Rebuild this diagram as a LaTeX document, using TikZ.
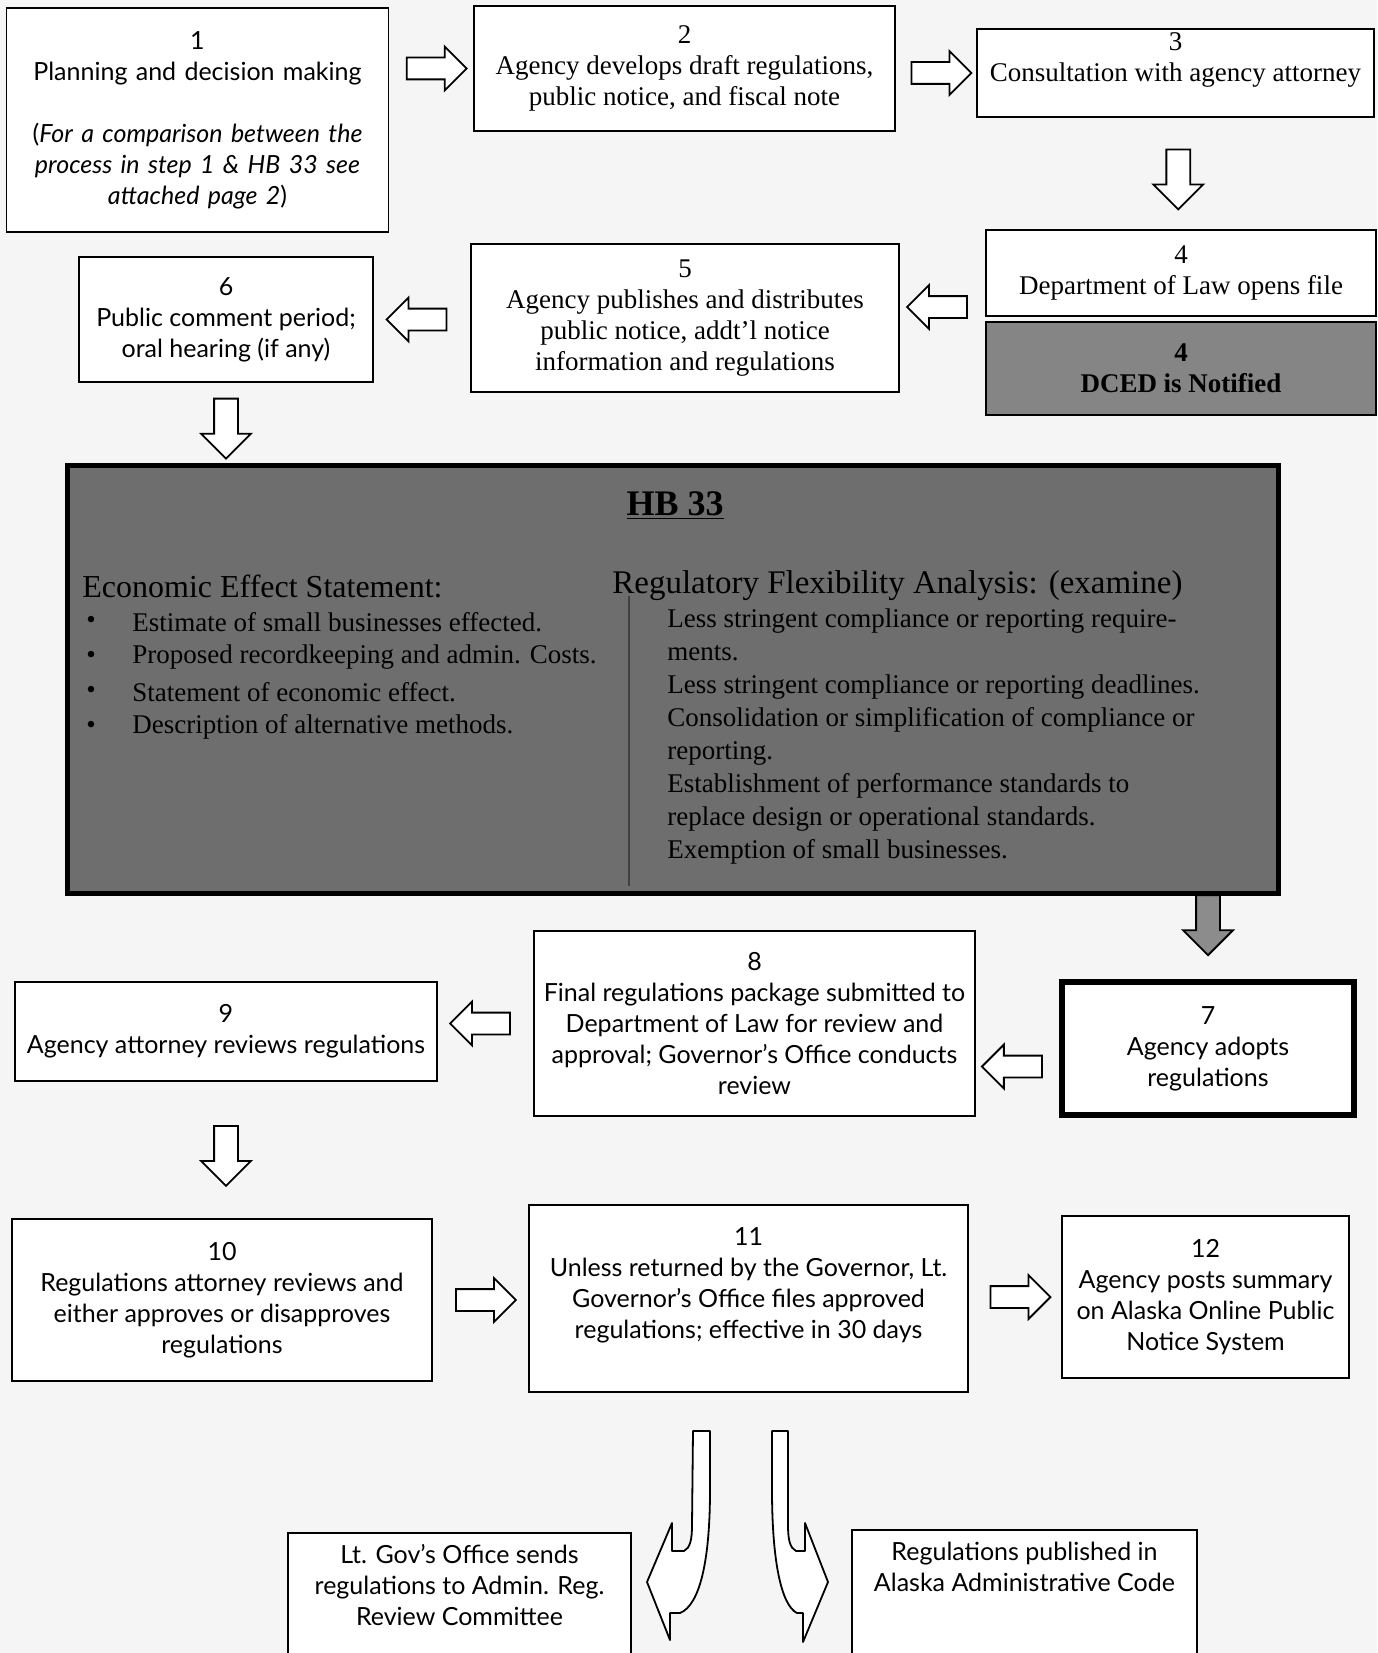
\documentclass[tikz,border=0pt]{standalone}
\usepackage{fontspec}
\setmainfont{Liberation Serif}
\newfontfamily\optfont[Ligatures=TeX]{Lato}
\usetikzlibrary{shapes.arrows,calc,positioning}

\tikzset{
  stepbox/.style={draw,line width=0.8pt,fill=white,align=center,inner sep=2pt,
    font=\optfont\fontsize{12.5}{15.5}\selectfont},
  serifbox/.style={stepbox,font=\fontsize{13.5}{15.5}\selectfont},
  harrow/.style={single arrow,draw,fill=white,line width=0.9pt,inner xsep=0pt,
    inner ysep=5pt,minimum height=30pt,single arrow head extend=5.5pt},
  varrow/.style={harrow,inner ysep=5.5pt,single arrow head extend=6.5pt,rotate=-90},
  larrow/.style={harrow,rotate=180},
  hbhead/.style={anchor=west,inner sep=0pt,font=\fontsize{16}{18}\selectfont},
  hbitem/.style={anchor=west,inner sep=0pt,font=\fontsize{13.5}{16.5}\selectfont}
}

\begin{document}
\begin{tikzpicture}[x=0.5pt,y=-0.5pt]
  \useasboundingbox (0,0) rectangle (1377,1653);
  \clip (0,0) rectangle (1377,1653);
  \fill[black!4] (0,0) rectangle (1377,1653);

  % top row
  \node[stepbox,minimum width=190.5pt,minimum height=112pt,text width=187pt] (plan) at (197.5,120)
    {1\\Planning and decision making\\[15.5pt](\textit{For a comparison between the}\\
     \textit{process in step 1 \& HB 33 see}\\ \textit{attached page 2})};
  \node[serifbox,minimum width=210.5pt,minimum height=62.5pt] (draft) at (684.5,68.5)
    {2\\Agency develops draft regulations,\\public notice, and fiscal note};
  \node[serifbox,minimum width=198.5pt,minimum height=43pt] (consult) at (1175.5,73)
    {3\\Consultation with agency attorney\\ \mbox{}};

  % second row
  \node[serifbox,minimum width=195pt,minimum height=43pt] (lawfile) at (1181,273)
    {4\\Department of Law opens file};
  \node[serifbox,fill=black!48,minimum width=195pt,minimum height=46.5pt,
    font=\bfseries\fontsize{13.5}{15.5}\selectfont] (dced) at (1181,368.5)
    {4\\DCED is Notified};
  \node[serifbox,minimum width=214pt,minimum height=74pt] (publish) at (685,318)
    {5\\Agency publishes and distributes\\public notice, addt'l notice\\information and regulations};
  \node[stepbox,minimum width=147pt,minimum height=62.5pt] (comment) at (226,319.5)
    {6\\Public comment period;\\oral hearing (if any)};

  % HB 33 panel
  \node[draw,line width=2.5pt,fill=black!57,minimum width=605.5pt,minimum height=214pt] (hb) at (672.5,679) {};
  \node[font=\bfseries\fontsize{18}{20}\selectfont] (hbtitle) at (675,506) {\underline{HB 33}};
  \node[hbhead] (ees) at (82,586) {Economic Effect Statement:};
  \node[hbhead,font=\fontsize{16.5}{18}\selectfont] (rfa) at (612,586) {Regulatory Flexibility Analysis: (examine)};
  \foreach \t [count=\i] in {Estimate of small businesses effected.,
      Proposed recordkeeping and admin. Costs.,
      Statement of economic effect.,
      Description of alternative methods.}{
    \node[hbitem] (dot\i) at (86,587+35*\i) {\textbullet};
    \node[hbitem] (ees\i) at (132,587+35*\i) {\t};
  }
  \node[hbitem,align=left,anchor=north west] (rfalist) at (667,608)
    {Less stringent compliance or reporting require-\\ments.\\
     Less stringent compliance or reporting deadlines.\\
     Consolidation or simplification of compliance or\\reporting.\\
     Establishment of performance standards to\\replace design or operational standards.\\
     Exemption of small businesses.};
  \draw[black!75,line width=1.2pt] (629,596) -- (629,886);

  % third row
  \node[stepbox,line width=3pt,minimum width=146pt,minimum height=66.5pt] (adopt) at (1208,1048.5)
    {7\\Agency adopts\\regulations};
  \node[stepbox,minimum width=220.5pt,minimum height=92.5pt] (submit) at (754.5,1023.5)
    {8\\Final regulations package submitted to\\Department of Law for review and\\
     approval; Governor's Office conducts\\review};
  \node[stepbox,minimum width=211pt,minimum height=49.5pt] (review) at (226,1031.5)
    {9\\Agency attorney reviews regulations};

  % fourth row
  \node[stepbox,minimum width=210pt,minimum height=81pt] (regatty) at (222,1300)
    {10\\Regulations attorney reviews and\\either approves or disapproves\\regulations};
  \node[stepbox,minimum width=219.5pt,minimum height=93.5pt] (filed) at (748.5,1298.5)
    {11\\Unless returned by the Governor, Lt.\\Governor's Office files approved\\
     regulations; effective in 30 days\\ \mbox{}};
  \node[stepbox,minimum width=143.5pt,minimum height=81pt] (posts) at (1205.5,1297)
    {12\\Agency posts summary\\on Alaska Online Public\\Notice System};

  % last row, cut by the page edge
  \node[stepbox,minimum width=171.5pt,minimum height=70pt,anchor=north] (arrc) at (459.5,1532) {};
  \node[stepbox,draw=none,fill=none,anchor=north] (arrctext) at ($(arrc.north)+(0,8)$)
    {Lt. Gov's Office sends\\regulations to Admin. Reg.\\Review Committee};
  \node[stepbox,minimum width=172.5pt,minimum height=70pt,anchor=north] (aac) at (1024.5,1529) {};
  \node[stepbox,draw=none,fill=none,anchor=north] (aactext) at ($(aac.north)+(0,8)$)
    {Regulations published in\\Alaska Administrative Code};

  % block arrows
  \node[harrow] (a12) at ($(plan.east |- draft)!.5!(draft.west)$) {};
  \node[harrow] (a23) at ($(draft.east |- consult)!.5!(consult.west)$) {};
  \node[varrow] (a34) at ($(consult.south)!.5!(lawfile.north)$) {};
  \node[larrow,yshift=-5.5pt] (a45) at ($(publish.east)!.5!(lawfile.west |- publish)$) {};
  \node[larrow] (a56) at ($(comment.east)!.5!(publish.west |- comment)$) {};
  \node[varrow] (a6hb) at ($(comment.south)!.5!(comment.south |- hb.north)$) {};
  \node[varrow,fill=black!45,xshift=-9pt] (ahb7) at ($(hb.south -| adopt)!.5!(adopt.north)$) {};
  \node[larrow,yshift=9pt] (a78) at ($(submit.east |- adopt)!.5!(adopt.west)$) {};
  \node[larrow] (a89) at ($(review.east |- submit)!.5!(submit.west)$) {};
  \node[varrow] (a910) at ($(review.south)!.5!(review.south |- regatty.north)$) {};
  \node[harrow] (a1011) at ($(regatty.east)!.5!(filed.west |- regatty)$) {};
  \node[harrow] (a1112) at ($(filed.east |- posts)!.5!(posts.west)$) {};

  % curved arrows out of step 11
  \draw[fill=white,line width=0.9pt,line join=round] (693,1431) -- (710,1431) -- (710,1490)
    .. controls (710,1560) and (700,1605) .. (680,1613) -- (670,1613) -- (670,1640)
    -- (647,1582) -- (672,1523) -- (672,1551) -- (684,1551)
    .. controls (690,1548) and (692,1540) .. (692,1525) -- cycle;
  \draw[fill=white,line width=0.9pt,line join=round] (788,1431) -- (772,1431) -- (772,1490)
    .. controls (772,1560) and (781,1605) .. (797,1613) -- (803,1613) -- (803,1642)
    -- (828,1582) -- (805,1523) -- (805,1551) -- (796,1551)
    .. controls (790,1548) and (788,1540) .. (788,1525) -- cycle;
\end{tikzpicture}
\end{document}
